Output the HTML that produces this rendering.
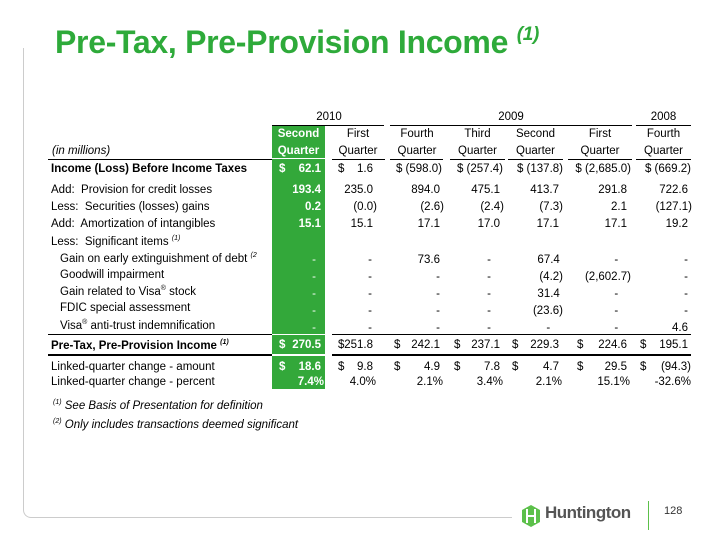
<!DOCTYPE html>
<html><head><style>
body{margin:0;width:720px;height:540px;background:#fff;position:relative;overflow:hidden;font-family:"Liberation Sans",Arial,sans-serif;font-size:11.5px;color:#000}
.a{position:absolute;white-space:nowrap}
.r{text-align:right}
.c{text-align:center}
.w{color:#fff;font-weight:bold}
.l{position:absolute;background:#000}
</style></head><body>
<div class="a" style="left:23px;top:48px;height:469px;border-left:1px solid #ccc;border-bottom:1px solid #ccc;border-bottom-left-radius:8px;width:488px"></div>
<div class="a" style="left:55px;top:24px;font-size:32px;font-weight:bold;color:#2eaa3a;letter-spacing:-0.3px">Pre-Tax, Pre-Provision Income <i style="font-size:19px;position:relative;top:-13px">(1)</i></div>
<div class="a" style="left:272px;top:126px;width:53px;height:263px;background:#33a83a"></div>
<div class="l" style="left:272px;top:158px;width:53px;height:1px;background:#fff"></div>
<div class="l" style="left:272px;top:334px;width:53px;height:1px;background:#fff"></div>
<div class="l" style="left:272px;top:354px;width:53px;height:2px;background:#fff"></div>
<div class="a c" style="left:292px;top:111px;width:74px">2010</div>
<div class="a c" style="left:390px;top:111px;width:242px">2009</div>
<div class="a c" style="left:636px;top:111px;width:55px">2008</div>
<div class="l" style="left:272px;top:125px;width:112px;height:1px"></div>
<div class="l" style="left:390px;top:125px;width:242px;height:1px"></div>
<div class="l" style="left:636px;top:125px;width:55px;height:1px"></div>
<div class="a c w" style="left:272px;top:128px;width:53px">Second</div>
<div class="a c w" style="left:272px;top:145px;width:53px">Quarter</div>
<div class="a" style="left:52px;top:145px;font-style:italic">(in millions)</div>
<div class="a c" style="left:330px;top:128px;width:56px">First</div><div class="a c" style="left:330px;top:145px;width:56px">Quarter</div>
<div class="a c" style="left:390px;top:128px;width:54px">Fourth</div><div class="a c" style="left:390px;top:145px;width:54px">Quarter</div>
<div class="a c" style="left:450px;top:128px;width:55px">Third</div><div class="a c" style="left:450px;top:145px;width:55px">Quarter</div>
<div class="a c" style="left:508px;top:128px;width:55px">Second</div><div class="a c" style="left:508px;top:145px;width:55px">Quarter</div>
<div class="a c" style="left:568px;top:128px;width:64px">First</div><div class="a c" style="left:568px;top:145px;width:64px">Quarter</div>
<div class="a c" style="left:636px;top:128px;width:55px">Fourth</div><div class="a c" style="left:636px;top:145px;width:55px">Quarter</div>
<div class="l" style="left:48px;top:159px;width:224px;height:1px"></div>
<div class="l" style="left:332px;top:159px;width:53px;height:1px"></div>
<div class="l" style="left:390px;top:159px;width:53px;height:1px"></div>
<div class="l" style="left:450px;top:159px;width:55px;height:1px"></div>
<div class="l" style="left:508px;top:159px;width:55px;height:1px"></div>
<div class="l" style="left:568px;top:159px;width:64px;height:1px"></div>
<div class="l" style="left:636px;top:159px;width:55px;height:1px"></div>
<div class="a" style="left:51px;top:163px;font-weight:bold">Income (Loss) Before Income Taxes</div>
<div class="a w" style="left:279px;top:163px">$</div><div class="a r w" style="left:280px;top:163px;width:41px">62.1</div>
<div class="a" style="left:338px;top:163px">$</div><div class="a r" style="left:330px;top:163px;width:43px">1.6</div>
<div class="a r" style="left:380px;top:163px;width:62px">$ (598.0)</div>
<div class="a r" style="left:440px;top:163px;width:63px">$ (257.4)</div>
<div class="a r" style="left:500px;top:163px;width:63px">$ (137.8)</div>
<div class="a r" style="left:560px;top:163px;width:71px">$ (2,685.0)</div>
<div class="a r" style="left:630px;top:163px;width:61px">$ (669.2)</div>
<div class="a" style="left:51px;top:184px">Add:&nbsp; Provision for credit losses</div>
<div class="a r w" style="left:270px;top:184px;width:51px">193.4</div>
<div class="a r" style="left:320px;top:184px;width:53px">235.0</div>
<div class="a r" style="left:380px;top:184px;width:60px">894.0</div>
<div class="a r" style="left:440px;top:184px;width:60px">475.1</div>
<div class="a r" style="left:500px;top:184px;width:59px">413.7</div>
<div class="a r" style="left:560px;top:184px;width:67px">291.8</div>
<div class="a r" style="left:630px;top:184px;width:58px">722.6</div>
<div class="a" style="left:51px;top:201px">Less:&nbsp; Securities (losses) gains</div>
<div class="a r w" style="left:270px;top:201px;width:51px">0.2</div>
<div class="a r" style="left:320px;top:201px;width:57px">(0.0)</div>
<div class="a r" style="left:380px;top:201px;width:64px">(2.6)</div>
<div class="a r" style="left:440px;top:201px;width:64px">(2.4)</div>
<div class="a r" style="left:500px;top:201px;width:63px">(7.3)</div>
<div class="a r" style="left:560px;top:201px;width:67px">2.1</div>
<div class="a r" style="left:630px;top:201px;width:62px">(127.1)</div>
<div class="a" style="left:51px;top:218px">Add:&nbsp; Amortization of intangibles</div>
<div class="a r w" style="left:270px;top:218px;width:51px">15.1</div>
<div class="a r" style="left:320px;top:218px;width:53px">15.1</div>
<div class="a r" style="left:380px;top:218px;width:60px">17.1</div>
<div class="a r" style="left:440px;top:218px;width:60px">17.0</div>
<div class="a r" style="left:500px;top:218px;width:59px">17.1</div>
<div class="a r" style="left:560px;top:218px;width:67px">17.1</div>
<div class="a r" style="left:630px;top:218px;width:58px">19.2</div>
<div class="a" style="left:51px;top:235px">Less:&nbsp; Significant items <sup style="font-size:7px;font-style:italic">(1)</sup></div>
<div class="a" style="left:60px;top:252px">Gain on early extinguishment of debt <sup style="font-size:7px;font-style:italic">(2</sup></div>
<div class="a" style="left:60px;top:269px">Goodwill impairment</div>
<div class="a" style="left:60px;top:285px">Gain related to Visa<sup style="font-size:7px">®</sup> stock</div>
<div class="a" style="left:60px;top:302px">FDIC special assessment</div>
<div class="a" style="left:60px;top:319px">Visa<sup style="font-size:7px">®</sup> anti-trust indemnification</div>
<div class="a r w" style="left:270px;top:252px;width:46px;line-height:17px;font-weight:normal">-<br>-<br>-<br>-<br>-</div>
<div class="a r" style="left:320px;top:252px;width:52px;line-height:17px">-<br>-<br>-<br>-<br>-</div>
<div class="a r" style="left:380px;top:252px;width:60px;line-height:17px">73.6<br>-<br>-<br>-<br>-</div>
<div class="a r" style="left:440px;top:252px;width:51px;line-height:17px">-<br>-<br>-<br>-<br>-</div>
<div class="a r" style="left:500px;top:252px;width:63px;line-height:17px">67.4&nbsp;<br>(4.2)<br>31.4&nbsp;<br>(23.6)<br>-&nbsp;&nbsp;&nbsp;&nbsp;</div>
<div class="a r" style="left:560px;top:252px;width:71px;line-height:17px">-&nbsp;&nbsp;&nbsp;&nbsp;<br>(2,602.7)<br>-&nbsp;&nbsp;&nbsp;&nbsp;<br>-&nbsp;&nbsp;&nbsp;&nbsp;<br>-&nbsp;&nbsp;&nbsp;&nbsp;</div>
<div class="a r" style="left:630px;top:252px;width:58px;line-height:17px">-<br>-<br>-<br>-<br>4.6</div>
<div class="l" style="left:48px;top:334px;width:224px;height:1px"></div>
<div class="l" style="left:332px;top:334px;width:359px;height:1px"></div>
<div class="a" style="left:51px;top:339px;font-weight:bold">Pre-Tax, Pre-Provision Income <sup style="font-size:7px;font-style:italic">(1)</sup></div>
<div class="a w" style="left:279px;top:339px">$</div><div class="a r w" style="left:280px;top:339px;width:41px">270.5</div>
<div class="a" style="left:338px;top:339px">$</div><div class="a r" style="left:330px;top:339px;width:43px">251.8</div>
<div class="a" style="left:394px;top:339px">$</div><div class="a r" style="left:380px;top:339px;width:60px">242.1</div>
<div class="a" style="left:454px;top:339px">$</div><div class="a r" style="left:440px;top:339px;width:60px">237.1</div>
<div class="a" style="left:512px;top:339px">$</div><div class="a r" style="left:500px;top:339px;width:59px">229.3</div>
<div class="a" style="left:577px;top:339px">$</div><div class="a r" style="left:560px;top:339px;width:67px">224.6</div>
<div class="a" style="left:640px;top:339px">$</div><div class="a r" style="left:630px;top:339px;width:58px">195.1</div>
<div class="l" style="left:48px;top:354px;width:224px;height:2px"></div>
<div class="l" style="left:332px;top:354px;width:359px;height:2px"></div>
<div class="a" style="left:51px;top:361px">Linked-quarter change - amount</div>
<div class="a w" style="left:279px;top:361px">$</div><div class="a r w" style="left:280px;top:361px;width:41px">18.6</div>
<div class="a" style="left:338px;top:361px">$</div><div class="a r" style="left:330px;top:361px;width:43px">9.8</div>
<div class="a" style="left:394px;top:361px">$</div><div class="a r" style="left:380px;top:361px;width:60px">4.9</div>
<div class="a" style="left:454px;top:361px">$</div><div class="a r" style="left:440px;top:361px;width:60px">7.8</div>
<div class="a" style="left:512px;top:361px">$</div><div class="a r" style="left:500px;top:361px;width:59px">4.7</div>
<div class="a" style="left:577px;top:361px">$</div><div class="a r" style="left:560px;top:361px;width:67px">29.5</div>
<div class="a" style="left:640px;top:361px">$</div><div class="a r" style="left:630px;top:361px;width:61px">(94.3)</div>
<div class="a" style="left:51px;top:376px">Linked-quarter change - percent</div>
<div class="a r w" style="left:270px;top:376px;width:54px">7.4%</div>
<div class="a r" style="left:320px;top:376px;width:56px">4.0%</div>
<div class="a r" style="left:380px;top:376px;width:63px">2.1%</div>
<div class="a r" style="left:440px;top:376px;width:63px">3.4%</div>
<div class="a r" style="left:500px;top:376px;width:62px">2.1%</div>
<div class="a r" style="left:560px;top:376px;width:70px">15.1%</div>
<div class="a r" style="left:630px;top:376px;width:61px">-32.6%</div>
<div class="a" style="left:53px;top:399px;font-style:italic"><sup style="font-size:7px">(1)</sup> See Basis of Presentation for definition</div>
<div class="a" style="left:53px;top:418px;font-style:italic"><sup style="font-size:7px">(2)</sup> Only includes transactions deemed significant</div>
<svg class="a" style="left:521px;top:505px" width="20" height="22" viewBox="0 0 20 22"><polygon points="10,0 19,5 19,17 10,22 1,17 1,5" fill="#5cc04a"/><path d="M6 4v14M14 4v14M6 11h8" stroke="#fff" stroke-width="2"/></svg>
<div class="a" style="left:545px;top:503px;font-size:17px;font-weight:bold;color:#555;letter-spacing:-0.5px">Huntington</div>
<div class="l" style="left:648px;top:501px;width:1px;height:29px;background:#5cc04a"></div>
<div class="a" style="left:664px;top:505px;font-size:11px;color:#333">128</div>
</body></html>
